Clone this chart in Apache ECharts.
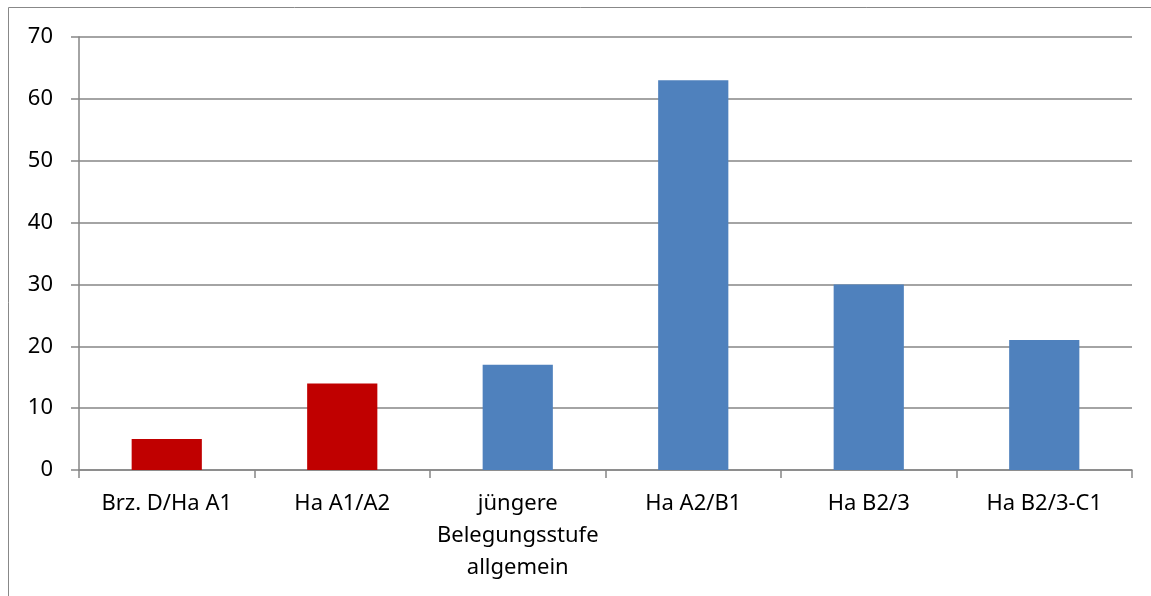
<!DOCTYPE html>
<html><head><meta charset="utf-8">
<script src="https://cdn.jsdelivr.net/npm/echarts@6/dist/echarts.min.js"></script>
<style>html,body{margin:0;padding:0;background:#fff}#c{width:1151px;height:596px}</style>
</head><body><div id="c"></div>
<script>
const categories = ['Brz. D/Ha A1', 'Ha A1/A2', 'jüngere\nBelegungsstufe\nallgemein', 'Ha A2/B1', 'Ha B2/3', 'Ha B2/3-C1'];
const values = [5, 14, 17, 63, 30, 21];
const barColors = ['#C00000', '#C00000', '#4F81BD', '#4F81BD', '#4F81BD', '#4F81BD'];
const yTicks = [0, 10, 20, 30, 40, 50, 60, 70];

const chart = echarts.init(document.getElementById('c'));
const font = 'Noto Sans, Liberation Sans, sans-serif';
chart.setOption({
  animation: false,
  graphic: [{type: 'rect', shape: {x: 8.5, y: 7.5, width: 1200, height: 700}, style: {fill: 'none', stroke: '#888', lineWidth: 1}, silent: true}],
  grid: {left: 79, right: 19, top: 37, bottom: 126},
  xAxis: {
    type: 'category', data: categories,
    axisLine: {lineStyle: {color: '#868686', width: 1.5}},
    axisTick: {show: true, length: 8, alignWithLabel: false, lineStyle: {color: '#868686', width: 1.5}},
    axisLabel: {color: '#000', fontSize: 22, fontFamily: font, lineHeight: 32, margin: 18, interval: 0}
  },
  yAxis: {
    type: 'value', min: yTicks[0], max: yTicks[yTicks.length - 1], interval: 10,
    axisLine: {show: true, lineStyle: {color: '#868686', width: 1.5}},
    axisTick: {show: true, length: 8, inside: false, lineStyle: {color: '#868686', width: 1.5}},
    splitLine: {lineStyle: {color: '#868686', width: 1.5}},
    axisLabel: {color: '#000', fontSize: 22, fontFamily: font, margin: 26}
  },
  series: [{
    type: 'bar', barWidth: '40%',
    data: values.map((v, i) => ({value: v, itemStyle: {color: barColors[i]}}))
  }]
});
</script></body></html>
